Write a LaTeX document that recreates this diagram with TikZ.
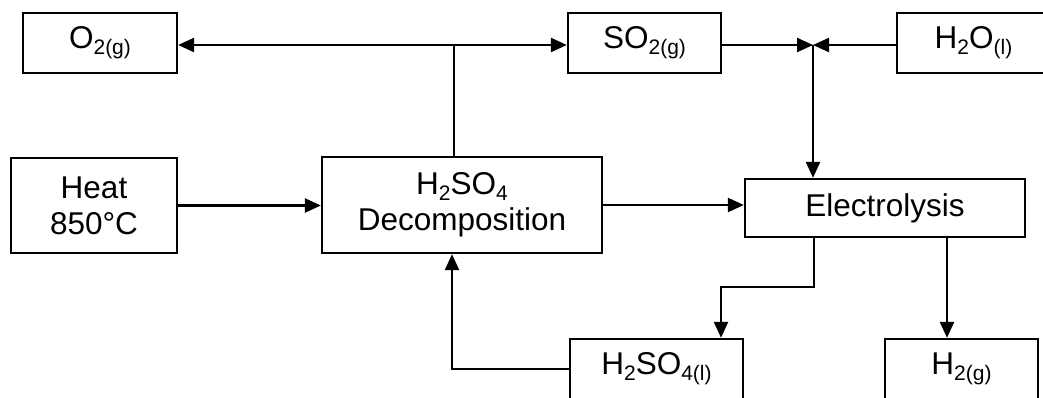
\documentclass[tikz,border=0pt]{standalone}
\usepackage{fontspec}
\setmainfont{Liberation Sans}
\usetikzlibrary{arrows.meta}
\newcommand\sbx[1]{\raisebox{-6pt}{\fontsize{21}{21}\selectfont #1}}
\begin{document}
\begin{tikzpicture}[x=1pt,y=-1pt,
  box/.style={draw,line width=2.3pt,inner sep=0pt,align=center,font=\fontsize{31.5}{36}\selectfont},
  arr/.style={line width=2.3pt,-{Triangle[length=16pt,width=14pt]}},
  ln/.style={line width=2.3pt}]
\useasboundingbox (0,0) rectangle (1043,397);
\clip (0,0) rectangle (1043,397);
% top row
\node[box,minimum width=154pt,minimum height=60pt] (o2) at (100,43) {O\sbx{2(g)}};
\node[box,minimum width=153pt,minimum height=60pt] (so2) at (644.5,43) {SO\sbx{2(g)}};
\node[box,minimum width=153pt,minimum height=60pt] (h2o) at (973.5,43) {H\sbx{2}O\sbx{(l)}};
% middle row
\node[box,minimum width=166pt,minimum height=95pt] (heat) at (94,205.5) {Heat\\850°C};
\node[box,minimum width=280pt,minimum height=96pt] (dec) at (462,205) {H\sbx{2}SO\sbx{4}\\Decomposition};
\node[box,minimum width=280pt,minimum height=58pt] (elec) at (885,208) {Electrolysis};
% bottom row
\node[box,minimum width=173pt,minimum height=60pt] (acid) at (656.5,369) {H\sbx{2}SO\sbx{4(l)}};
\node[box,minimum width=153pt,minimum height=60pt] (h2) at (961.5,369) {H\sbx{2(g)}};
% junctions
\coordinate (j1) at (454,45);
\coordinate (j2) at (813,45);
\coordinate (k1) at (814,287);
\coordinate (k2) at (721,287);
\coordinate (k3) at (947,300);
\coordinate (k4) at (452,369);
% connectors
\draw[ln] (dec.north -| j1) -- (j1);
\draw[arr] (j1) -- (o2.east |- j1);
\draw[arr] (j1) -- (so2.west |- j1);
\draw[arr] (so2.east |- j2) -- (j2);
\draw[arr] (h2o.west |- j2) -- (j2);
\draw[arr] (j2) -- (j2 |- elec.north);
\draw[arr] (heat.east) -- (heat.east -| dec.west);
\draw[arr] (dec.east) -- (dec.east -| elec.west);
\draw[arr] (k1 |- elec.south) -- (k1) -- (k2) -- (k2 |- acid.north);
\draw[arr] (k3 |- elec.south) -- (k3 |- h2.north);
\draw[arr] (acid.west) -- (k4) -- (k4 |- dec.south);
\end{tikzpicture}
\end{document}
